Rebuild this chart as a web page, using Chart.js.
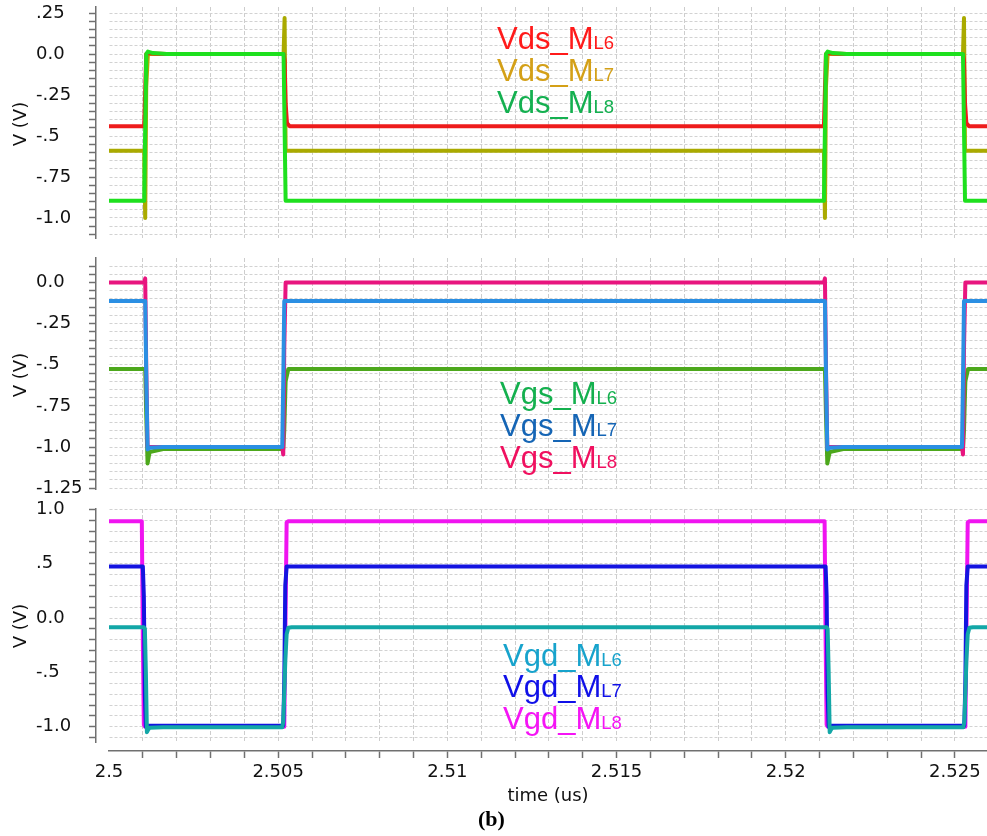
<!DOCTYPE html>
<html>
<head>
<meta charset="utf-8">
<script src="https://cdn.jsdelivr.net/npm/chart.js@4.4.1/dist/chart.umd.min.js"></script>
<style>
  body { margin: 0; background: #fff; width: 987px; height: 836px; position: relative; overflow: hidden; }
  canvas { position: absolute; left: 0; }
  .ytitle { position: absolute; width: 100px; height: 22px; line-height: 22px; text-align: center;
            font: 18px "DejaVu Sans"; color: #111; transform: rotate(-90deg); }
  .legend { position: absolute; font: 31px "Liberation Sans"; white-space: nowrap; }
  .legend span { font-size: 18.5px; line-height: 0; }
  .caption { position: absolute; font: bold 22px "Liberation Serif"; color: #000; }
</style>
</head>
<body>
<canvas id="vds" width="987" height="248" style="top:0"></canvas>
<canvas id="vgs" width="987" height="250" style="top:248px"></canvas>
<canvas id="vgd" width="987" height="338" style="top:498px"></canvas>

<div class="ytitle" style="left:-30px;top:113px">V (V)</div>
<div class="ytitle" style="left:-30px;top:364px">V (V)</div>
<div class="ytitle" style="left:-30px;top:615px">V (V)</div>

<div class="legend" style="left:497px;top:23px;line-height:32px">
  <div style="color:#ff1a1a">Vds_M<span>L6</span></div>
  <div style="color:#d4a017">Vds_M<span>L7</span></div>
  <div style="color:#14b050">Vds_M<span>L8</span></div>
</div>
<div class="legend" style="left:500px;top:378px;line-height:32px">
  <div style="color:#14b04e">Vgs_M<span>L6</span></div>
  <div style="color:#1565b5">Vgs_M<span>L7</span></div>
  <div style="color:#f0105f">Vgs_M<span>L8</span></div>
</div>
<div class="legend" style="left:503px;top:640px;line-height:31.3px">
  <div style="color:#17a3cc">Vgd_M<span>L6</span></div>
  <div style="color:#1010e8">Vgd_M<span>L7</span></div>
  <div style="color:#f514f5">Vgd_M<span>L8</span></div>
</div>
<div class="caption" style="left:478px;top:806px">(b)</div>

<script>
// time axis (us)
const xMin = 2.5, xMax = 2.52595;
const xMinorStep = 0.001;
const xTickValues = [2.5, 2.505, 2.51, 2.515, 2.52, 2.525];
const xTickLabels = ['2.5', '2.505', '2.51', '2.515', '2.52', '2.525'];

// ===== Vds panel =====
const vdsRange = [-1.122, 0.287];
const vdsMinorStep = 0.05;
const vdsTickValues = [0.25, 0, -0.25, -0.5, -0.75, -1.0];
const vdsTickLabels = ['.25', '0.0', '-.25', '-.5', '-.75', '-1.0'];
const vdsTime = [2.5,
  2.50104, 2.50107, 2.5011, 2.50115, 2.5013, 2.5017,
  2.50516, 2.50519, 2.50522, 2.50526, 2.50534,
  2.52113, 2.52116, 2.52119, 2.52124, 2.5214, 2.5218,
  2.52524, 2.52527, 2.5253, 2.52534, 2.52542,
  2.52595];
const vdsML6 = [-0.44,
  -0.44, -0.22, 0.0, 0.006, 0.003, 0.0,
  0.0, -0.04, -0.3, -0.42, -0.44,
  -0.44, -0.22, 0.0, 0.006, 0.003, 0.0,
  0.0, -0.04, -0.3, -0.42, -0.44,
  -0.44];
const vdsML7 = [-0.59,
  -0.59, -1.0, -0.2, 0.0, 0.0, 0.0,
  0.0, 0.22, -0.59, -0.59, -0.59,
  -0.59, -1.0, -0.2, 0.0, 0.0, 0.0,
  0.0, 0.22, -0.59, -0.59, -0.59,
  -0.59];
const vdsML8 = [-0.895,
  -0.895, -0.45, 0.0, 0.015, 0.006, 0.0,
  0.0, -0.45, -0.895, -0.895, -0.895,
  -0.895, -0.45, 0.0, 0.015, 0.006, 0.0,
  0.0, -0.45, -0.895, -0.895, -0.895,
  -0.895];

// ===== Vgs panel =====
const vgsRange = [-1.255, 0.149];
const vgsMinorStep = 0.05;
const vgsTickValues = [0, -0.25, -0.5, -0.75, -1.0, -1.25];
const vgsTickLabels = ['0.0', '-.25', '-.5', '-.75', '-1.0', '-1.25'];
const vgsTime = [2.5,
  2.50104, 2.50107, 2.5011, 2.50114, 2.5012, 2.5016,
  2.50512, 2.50515, 2.50518, 2.50522, 2.5053,
  2.52113, 2.52116, 2.52119, 2.52123, 2.5213, 2.5217,
  2.52521, 2.52524, 2.52527, 2.52531, 2.52539,
  2.52595];
const vgsML6 = [-0.526,
  -0.526, -0.526, -0.8, -1.1, -1.03, -1.012,
  -1.012, -1.012, -0.9, -0.6, -0.526,
  -0.526, -0.526, -0.8, -1.1, -1.03, -1.012,
  -1.012, -1.012, -0.9, -0.6, -0.526,
  -0.526];
const vgsML7 = [-0.112,
  -0.112, -0.112, -0.55, -1.015, -1.005, -1.0,
  -1.0, -0.6, -0.112, -0.112, -0.112,
  -0.112, -0.112, -0.55, -1.015, -1.005, -1.0,
  -1.0, -0.6, -0.112, -0.112, -0.112,
  -0.112];
const vgsML8 = [0.0,
  0.0, 0.025, -0.5, -1.0, -1.0, -1.0,
  -1.0, -1.045, -0.4, 0.0, 0.0,
  0.0, 0.025, -0.5, -1.0, -1.0, -1.0,
  -1.0, -1.045, -0.4, 0.0, 0.0,
  0.0];

// ===== Vgd panel =====
const vgdRange = [-1.14, 1.003];
const vgdMinorStep = 0.1;
const vgdTickValues = [1.0, 0.5, 0, -0.5, -1.0];
const vgdTickLabels = ['1.0', '.5', '0.0', '-.5', '-1.0'];
const vgdTime = [2.5,
  2.50097, 2.501, 2.50103, 2.50106, 2.50109, 2.50112, 2.50115, 2.5012, 2.5016,
  2.50512, 2.50515, 2.50518, 2.50521, 2.50525, 2.5053, 2.5054,
  2.52115, 2.52118, 2.52121, 2.52124, 2.52127, 2.5213, 2.52133, 2.52138, 2.5218,
  2.52525, 2.52528, 2.52531, 2.52534, 2.52538, 2.52543, 2.52553,
  2.52595];
const vgdML6 = [-0.085,
  -0.085, -0.085, -0.085, -0.1, -0.5, -1.05, -1.03, -1.01, -1.005,
  -1.005, -0.95, -0.7, -0.4, -0.15, -0.09, -0.085,
  -0.085, -0.085, -0.085, -0.1, -0.5, -1.05, -1.03, -1.01, -1.005,
  -1.005, -0.95, -0.7, -0.4, -0.15, -0.09, -0.085,
  -0.085];
const vgdML7 = [0.475,
  0.475, 0.475, 0.2, -0.7, -1.0, -1.0, -0.99, -0.99, -0.99,
  -0.99, -0.99, -0.6, 0.3, 0.475, 0.475, 0.475,
  0.475, 0.475, 0.2, -0.7, -1.0, -1.0, -0.99, -0.99, -0.99,
  -0.99, -0.99, -0.6, 0.3, 0.475, 0.475, 0.475,
  0.475];
const vgdML8 = [0.89,
  0.89, -0.2, -0.98, -1.0, -1.0, -1.0, -1.0, -1.0, -1.0,
  -1.0, -1.0, -1.0, -0.2, 0.88, 0.89, 0.89,
  0.89, -0.2, -0.98, -1.0, -1.0, -1.0, -1.0, -1.0, -1.0,
  -1.0, -1.0, -1.0, -0.2, 0.88, 0.89, 0.89,
  0.89];

const AXIS = '#707070';
const TEXT = '#111';

function points(times, values) {
  return times.map((t, i) => ({ x: t, y: values[i] }));
}

function stepTicks(min, max, step) {
  const out = [];
  const k0 = Math.ceil(min / step - 1e-9), k1 = Math.floor(max / step + 1e-9);
  for (let k = k0; k <= k1; k++) out.push({ value: Math.round(k * step * 1e6) / 1e6 });
  return out;
}

function labelFor(values, labels) {
  return v => {
    const i = values.findIndex(m => Math.abs(m - v) < 1e-6);
    return i < 0 ? '' : labels[i];
  };
}

function line(label, times, values, color) {
  return {
    label, data: points(times, values),
    borderColor: color, borderWidth: 4, pointRadius: 0, fill: false, tension: 0,
    borderJoinStyle: 'round', xAxisID: 'x', yAxisID: 'y'
  };
}

const isStart = c => c.tick && Math.abs(c.tick.value - xMin) < 1e-9;

function makePanel(id, opt) {
  const showX = !!opt.showX;
  return new Chart(document.getElementById(id), {
    type: 'line',
    data: { datasets: opt.datasets },
    options: {
      responsive: false, animation: false, events: [],
      layout: { padding: { left: 36, right: 0, top: opt.padTop, bottom: opt.padBottom } },
      plugins: { legend: { display: false }, tooltip: { enabled: false } },
      scales: {
        x: {
          type: 'linear', position: 'bottom', weight: 10, min: xMin, max: xMax,
          afterBuildTicks: s => { s.ticks = stepTicks(xMin, xMax, xMinorStep); },
          afterFit: s => { s.height = showX ? 56 : 0; s.paddingLeft = 0; s.paddingRight = 0; },
          grid: {
            color: c => isStart(c) ? 'rgba(0,0,0,0)' : '#cdcdcd',
            lineWidth: 1, drawTicks: showX, tickLength: 7,
            tickColor: c => isStart(c) ? 'rgba(0,0,0,0)' : AXIS, tickWidth: 1.5
          },
          border: { display: showX, color: AXIS, width: 1.5, dash: [4, 2] },
          ticks: {
            display: showX, autoSkip: false, maxRotation: 0, padding: 4, color: TEXT,
            font: { family: 'DejaVu Sans', size: 18 },
            callback: labelFor(xTickValues, xTickLabels)
          },
          title: {
            display: showX, text: 'time (us)', color: TEXT,
            font: { family: 'DejaVu Sans', size: 18 }, padding: { top: 0, bottom: 0 }
          }
        },
        xgap: {
          type: 'linear', position: 'bottom', weight: 0, display: showX,
          grid: { display: false }, border: { display: false }, ticks: { display: false },
          afterFit: s => { s.height = showX ? 9 : 0; }
        },
        y: {
          type: 'linear', position: 'left', weight: 10, min: opt.range[0], max: opt.range[1],
          afterBuildTicks: s => { s.ticks = stepTicks(opt.range[0], opt.range[1], opt.step); },
          afterFit: s => { s.width = 60; s.paddingTop = 0; s.paddingBottom = 0; },
          grid: { color: '#d2d2d2', lineWidth: 1, tickLength: 7, tickColor: AXIS, tickWidth: 1.5 },
          border: { display: true, color: AXIS, width: 1.5, dash: [3, 2] },
          ticks: {
            autoSkip: false, crossAlign: 'far', color: TEXT,
            font: { family: 'DejaVu Sans', size: 18 },
            callback: labelFor(opt.tickValues, opt.tickLabels)
          }
        },
        ygap: {
          type: 'linear', position: 'left', weight: 0,
          grid: { display: false }, border: { display: false }, ticks: { display: false },
          afterFit: s => { s.width = 13; }
        }
      }
    }
  });
}

// first dataset is drawn on top
makePanel('vds', {
  padTop: 7, padBottom: 10,
  range: vdsRange, step: vdsMinorStep, tickValues: vdsTickValues, tickLabels: vdsTickLabels,
  datasets: [
    line('Vds_ML8', vdsTime, vdsML8, '#1ee01e'),
    line('Vds_ML6', vdsTime, vdsML6, '#ee1c1c'),
    line('Vds_ML7', vdsTime, vdsML7, '#aaaa00')
  ]
});

makePanel('vgs', {
  padTop: 10, padBottom: 9,
  range: vgsRange, step: vgsMinorStep, tickValues: vgsTickValues, tickLabels: vgsTickLabels,
  datasets: [
    line('Vgs_ML7', vgsTime, vgsML7, '#2b8fe3'),
    line('Vgs_ML8', vgsTime, vgsML8, '#e8157f'),
    line('Vgs_ML6', vgsTime, vgsML6, '#4da81c')
  ]
});

makePanel('vgd', {
  padTop: 11, padBottom: 29, showX: true,
  range: vgdRange, step: vgdMinorStep, tickValues: vgdTickValues, tickLabels: vgdTickLabels,
  datasets: [
    line('Vgd_ML6', vgdTime, vgdML6, '#13a7a7'),
    line('Vgd_ML7', vgdTime, vgdML7, '#1414e0'),
    line('Vgd_ML8', vgdTime, vgdML8, '#f014f0')
  ]
});
</script>
</body>
</html>
